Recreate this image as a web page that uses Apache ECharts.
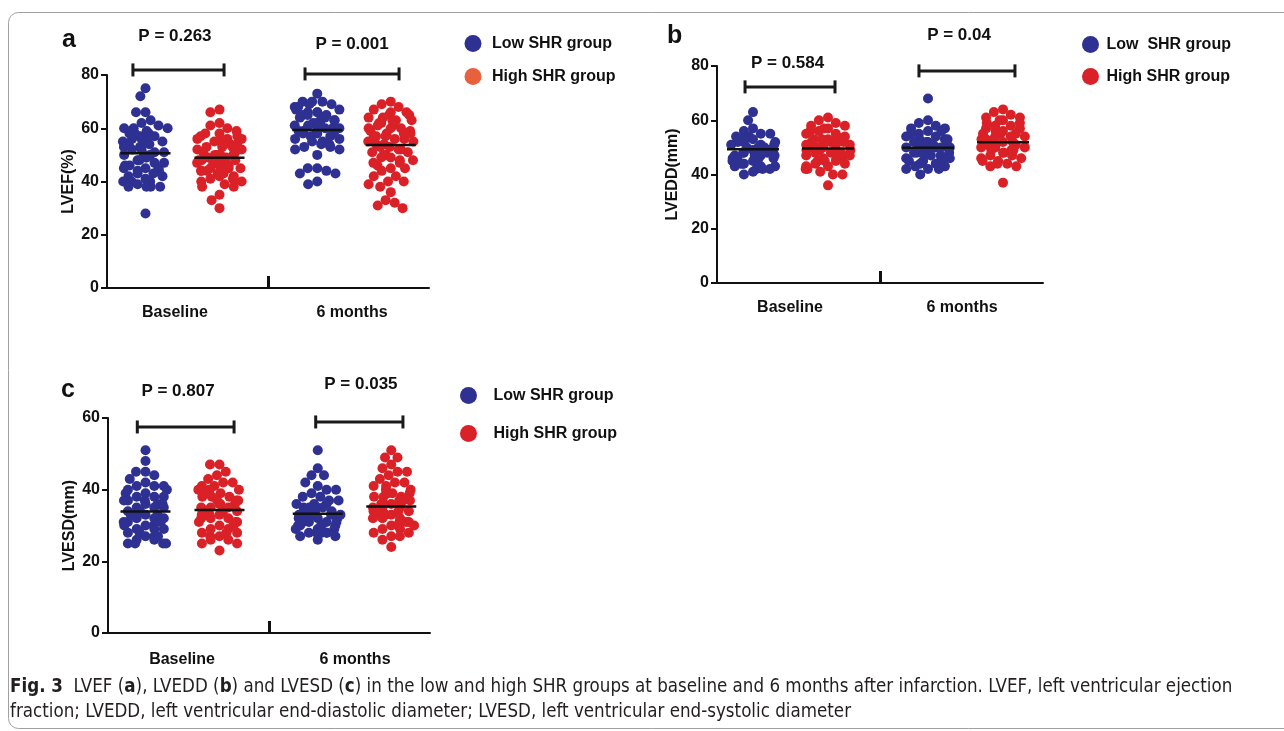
<!DOCTYPE html>
<html>
<head>
<meta charset="utf-8">
<title>LVEF, LVEDD and LVESD in low and high SHR groups</title>
<script src="https://cdn.jsdelivr.net/npm/echarts@6/dist/echarts.min.js"></script>
<style>
  html, body { margin: 0; padding: 0; background: #fff; }
  #chart { width: 1284px; height: 731px; }
</style>
</head>
<body>
<div id="chart"></div>
<script>
const phases = ['Baseline', '6 months'];
const groups = ['Low SHR group', 'High SHR group'];

// a: LVEF (%)
const lvefLowBaseline = [75, 72, 66, 66, 63, 62, 61, 60, 60, 60, 59, 58, 58, 58, 57, 57, 56, 56, 55, 55, 55, 54, 54, 53, 53, 52, 52, 51, 51, 50, 50, 50, 49, 49, 48, 48, 47, 47, 46, 46, 45, 45, 45, 44, 44, 43, 43, 42, 42, 41, 40, 40, 40, 40, 39, 38, 38, 38, 38, 28];
const lvefHighBaseline = [67, 66, 62, 61, 60, 59, 58, 58, 57, 57, 56, 56, 56, 55, 55, 54, 54, 53, 53, 53, 52, 52, 51, 51, 50, 50, 50, 50, 49, 49, 48, 48, 48, 47, 47, 47, 46, 46, 46, 45, 45, 45, 44, 44, 44, 43, 43, 42, 42, 41, 41, 40, 40, 40, 39, 38, 38, 35, 33, 30];
const lvefLow6m = [73, 70, 70, 70, 69, 69, 68, 68, 67, 67, 66, 66, 66, 65, 65, 65, 64, 64, 63, 63, 63, 62, 62, 62, 61, 61, 61, 60, 60, 60, 59, 59, 59, 58, 58, 58, 57, 57, 56, 56, 55, 55, 54, 54, 53, 53, 52, 52, 50, 45, 45, 44, 43, 43, 40, 39];
const lvefHigh6m = [70, 69, 68, 67, 66, 66, 65, 65, 64, 64, 63, 63, 63, 62, 62, 61, 61, 60, 60, 60, 59, 59, 58, 58, 58, 57, 57, 57, 56, 56, 55, 55, 54, 54, 53, 53, 52, 52, 51, 51, 50, 50, 49, 49, 48, 48, 47, 47, 46, 45, 45, 44, 42, 42, 40, 40, 39, 38, 36, 33, 32, 31, 30];
const lvefMeans = [50.6, 48.9, 59.3, 53.7];   // low/high at baseline, low/high at 6 months
const lvefP = ['P = 0.263', 'P = 0.001'];

// b: LVEDD (mm)
const lveddLowBaseline = [63, 60, 57, 56, 55, 55, 54, 54, 54, 53, 53, 53, 52, 52, 52, 51, 51, 51, 50, 50, 50, 50, 49, 49, 49, 49, 48, 48, 48, 48, 47, 47, 47, 47, 46, 46, 46, 46, 45, 45, 45, 44, 44, 44, 43, 43, 43, 42, 42, 42, 41, 40];
const lveddHighBaseline = [61, 60, 59, 58, 58, 57, 57, 56, 56, 55, 55, 54, 54, 53, 53, 53, 52, 52, 52, 51, 51, 51, 50, 50, 50, 50, 49, 49, 49, 49, 48, 48, 48, 47, 47, 47, 46, 46, 46, 45, 45, 45, 44, 44, 43, 43, 42, 42, 41, 40, 40, 36];
const lveddLow6m = [68, 60, 59, 58, 57, 57, 56, 56, 55, 55, 54, 54, 53, 53, 53, 52, 52, 52, 51, 51, 51, 50, 50, 50, 50, 49, 49, 49, 49, 48, 48, 48, 48, 47, 47, 47, 46, 46, 46, 45, 45, 45, 44, 44, 43, 43, 42, 42, 42, 40];
const lveddHigh6m = [64, 63, 62, 61, 61, 60, 60, 59, 59, 58, 58, 57, 57, 56, 56, 56, 55, 55, 55, 54, 54, 54, 53, 53, 53, 52, 52, 52, 51, 51, 51, 50, 50, 50, 49, 49, 49, 48, 48, 47, 47, 46, 46, 45, 45, 44, 44, 43, 43, 37];
const lveddMeans = [49.3, 49.6, 49.9, 51.9];
const lveddP = ['P = 0.584', 'P = 0.04'];

// c: LVESD (mm)
const lvesdLowBaseline = [51, 48, 45, 45, 44, 43, 42, 41, 41, 41, 40, 40, 39, 39, 38, 38, 38, 37, 37, 37, 36, 36, 36, 35, 35, 35, 34, 34, 34, 33, 33, 33, 32, 32, 32, 31, 31, 31, 30, 30, 30, 29, 29, 29, 28, 28, 27, 27, 27, 26, 26, 25, 25, 25, 25];
const lvesdHighBaseline = [47, 47, 45, 44, 43, 42, 42, 41, 41, 40, 40, 40, 39, 39, 38, 38, 38, 37, 37, 37, 36, 36, 36, 35, 35, 35, 34, 34, 34, 33, 33, 33, 32, 32, 32, 31, 31, 31, 30, 30, 30, 29, 29, 28, 28, 28, 27, 27, 26, 26, 25, 25, 23];
const lvesdLow6m = [51, 46, 44, 44, 42, 41, 40, 40, 39, 38, 38, 37, 37, 36, 36, 36, 35, 35, 35, 35, 34, 34, 34, 34, 33, 33, 33, 33, 32, 32, 32, 32, 31, 31, 31, 31, 30, 30, 30, 30, 29, 29, 29, 29, 28, 28, 28, 28, 28, 27, 27, 26];
const lvesdHigh6m = [51, 49, 49, 47, 46, 45, 45, 44, 43, 42, 42, 41, 41, 40, 40, 39, 39, 39, 38, 38, 38, 37, 37, 37, 36, 36, 36, 35, 35, 35, 34, 34, 34, 33, 33, 33, 32, 32, 32, 31, 31, 31, 30, 30, 30, 29, 29, 28, 28, 27, 27, 26, 24];
const lvesdMeans = [33.9, 34.3, 33.3, 35.3];
const lvesdP = ['P = 0.807', 'P = 0.035'];

const blue = '#2e3192';
const red = '#da2127';
const orange = '#e8603c';
const ink = '#111';
const font = "'Liberation Sans', Arial, sans-serif";
const captionFont = "'Liberation Sans Narrow', 'DejaVu Sans Condensed', 'Liberation Sans', sans-serif";

// layout of the three panels (pixels, and bracket/label spots in 0..2 units of the phase axis)
const panels = [
    {
        letter: 'a', letterPos: [62, 28], yName: 'LVEF(%)', yMax: 80, nameGap: 30,
        grid: { left: 107, top: 75, width: 322, height: 213 },
        dotGrids: [{ left: 108.5, width: 148 }, { left: 280.5, width: 147 }],
        values: [[lvefLowBaseline, lvefHighBaseline], [lvefLow6m, lvefHigh6m]],
        means: lvefMeans, pText: lvefP,
        brackets: [[0.161, 0.727, 81.9, 0.422, 94.7], [1.23, 1.814, 80.4, 1.522, 91.6]],
        labelAt: [0.422, 1.522], labelMargin: 17,
        names: ['Low SHR group', 'High SHR group'],
        legend: { left: 464.5, top: 35, itemWidth: 28, itemGap: 16, colors: [blue, orange] },
        meanHalf: 25
    },
    {
        letter: 'b', letterPos: [667, 24], yName: 'LVEDD(mm)', yMax: 80, nameGap: 36,
        grid: { left: 717, top: 66, width: 326, height: 217 },
        dotGrids: [{ left: 715.5, width: 150 }, { left: 890.5, width: 150 }],
        values: [[lveddLowBaseline, lveddHighBaseline], [lveddLow6m, lveddHigh6m]],
        means: lveddMeans, pText: lveddP,
        brackets: [[0.172, 0.724, 72.3, 0.433, 81.1], [1.239, 1.828, 78.2, 1.485, 91.3]],
        labelAt: [0.448, 1.503], labelMargin: 17,
        names: ['Low  SHR group', 'High SHR group'],
        legend: { left: 1082, top: 36, itemWidth: 22, itemGap: 15, colors: [blue, red] },
        meanHalf: 26
    },
    {
        letter: 'c', letterPos: [61, 378], yName: 'LVESD(mm)', yMax: 60, nameGap: 30,
        grid: { left: 108, top: 418, width: 322, height: 215 },
        dotGrids: [{ left: 108.5, width: 148 }, { left: 281, width: 147 }],
        values: [[lvesdLowBaseline, lvesdHighBaseline], [lvesdLow6m, lvesdHigh6m]],
        means: lvesdMeans, pText: lvesdP,
        brackets: [[0.182, 0.783, 57.5, 0.435, 67.4], [1.29, 1.832, 58.9, 1.571, 69.3]],
        labelAt: [0.46, 1.534], labelMargin: 19,
        names: ['Low SHR group', 'High SHR group'],
        legend: { left: 460, top: 387, itemWidth: 40, itemGap: 21, colors: [blue, red] },
        meanHalf: 25
    }
];

const caption = '{b|Fig. 3}  LVEF ({b|a}), LVEDD ({b|b}) and LVESD ({b|c}) in the low and high SHR groups at baseline and 6 months after infarction. LVEF, left ventricular ejection\n' +
    'fraction; LVEDD, left ventricular end-diastolic diameter; LVESD, left ventricular end-systolic diameter';

const option = {
    animation: false,
    backgroundColor: '#fff',
    title: [],
    legend: [],
    grid: [],
    xAxis: [],
    yAxis: [],
    series: [],
    graphic: [{
        type: 'rect', z: -10, silent: true,
        shape: { x: 8.5, y: 12.5, width: 1290, height: 716, r: 10 },
        style: { fill: null, stroke: '#a0a0a0', lineWidth: 1 }
    }]
};

const dotColors = [blue, red];

panels.forEach(function (pn) {
    const interval = 20;
    // main grid with the visible axes
    const gMain = option.grid.length;
    option.grid.push(Object.assign({ outerBoundsMode: 'none' }, pn.grid));
    const xMain = option.xAxis.length;
    option.xAxis.push({
        gridIndex: gMain, type: 'value', min: 0, max: 2,
        splitLine: { show: false },
        axisLine: { lineStyle: { color: ink, width: 2 } },
        axisTick: { show: true, inside: true, length: 12, lineStyle: { color: ink, width: 3 }, customValues: [1] },
        axisLabel: {
            customValues: pn.labelAt, margin: pn.labelMargin,
            formatter: function (v) { return v < 1 ? phases[0] : phases[1]; },
            color: ink, fontSize: 16, fontWeight: 'bold', fontFamily: font
        }
    });
    const yMain = option.yAxis.length;
    option.yAxis.push({
        gridIndex: gMain, type: 'value', min: 0, max: pn.yMax, interval: interval,
        name: pn.yName, nameLocation: 'middle', nameGap: pn.nameGap,
        nameTextStyle: { color: ink, fontSize: 16, fontWeight: 'bold', fontFamily: font },
        splitLine: { show: false },
        axisLine: { show: true, lineStyle: { color: ink, width: 2 } },
        axisTick: { show: true, length: 6, lineStyle: { color: ink, width: 2 } },
        axisLabel: { color: ink, fontSize: 16, fontWeight: 'bold', fontFamily: font, margin: 8 }
    });
    // significance brackets with P values
    option.series.push({
        type: 'custom', xAxisIndex: xMain, yAxisIndex: yMain, z: 6, silent: true, clip: false,
        data: pn.brackets,
        renderItem: function (params, api) {
            const a = api.coord([api.value(0), api.value(2)]);
            const b = api.coord([api.value(1), api.value(2)]);
            const t = api.coord([api.value(3), api.value(4)]);
            const cap = 6.5;
            const st = { stroke: '#1a1a1a', lineWidth: 3 };
            return {
                type: 'group',
                children: [
                    { type: 'line', shape: { x1: a[0], y1: a[1], x2: b[0], y2: b[1] }, style: st },
                    { type: 'line', shape: { x1: a[0], y1: a[1] - cap, x2: a[0], y2: a[1] + cap }, style: st },
                    { type: 'line', shape: { x1: b[0], y1: b[1] - cap, x2: b[0], y2: b[1] + cap }, style: st },
                    {
                        type: 'text', x: t[0], y: t[1],
                        style: {
                            text: pn.pText[params.dataIndex], fill: ink,
                            fontSize: 17, fontWeight: 'bold', fontFamily: font,
                            align: 'center', verticalAlign: 'middle'
                        }
                    }
                ]
            };
        }
    });

    // one hidden grid per phase, so the two groups sit where the figure has them
    pn.dotGrids.forEach(function (dg, ph) {
        const gi = option.grid.length;
        option.grid.push({ left: dg.left, width: dg.width, top: pn.grid.top, height: pn.grid.height, outerBoundsMode: 'none' });
        const xi = option.xAxis.length;
        option.xAxis.push({
            gridIndex: gi, type: 'category', data: groups, show: false,
            jitter: 46, jitterOverlap: false, jitterMargin: -0.5
        });
        const yi = option.yAxis.length;
        option.yAxis.push({ gridIndex: gi, type: 'value', min: 0, max: pn.yMax, interval: interval, show: false });

        pn.values[ph].forEach(function (vals, g) {
            option.series.push({
                type: 'scatter', name: pn.names[g], xAxisIndex: xi, yAxisIndex: yi, z: 3,
                symbol: 'circle', symbolSize: 10,
                itemStyle: { color: dotColors[g], opacity: 1 },
                emphasis: { disabled: true },
                data: vals.map(function (v) { return [g, v]; })
            });
        });
        // group means
        option.series.push({
            type: 'custom', xAxisIndex: xi, yAxisIndex: yi, z: 5, silent: true,
            data: [[0, pn.means[ph * 2]], [1, pn.means[ph * 2 + 1]]],
            renderItem: function (params, api) {
                const p = api.coord([api.value(0), api.value(1)]);
                return {
                    type: 'line',
                    shape: { x1: p[0] - pn.meanHalf, y1: p[1], x2: p[0] + pn.meanHalf, y2: p[1] },
                    style: { stroke: ink, lineWidth: 2.5 }
                };
            }
        });
    });

    option.legend.push({
        orient: 'vertical', left: pn.legend.left, top: pn.legend.top,
        itemWidth: pn.legend.itemWidth, itemHeight: 17, itemGap: pn.legend.itemGap,
        icon: 'circle', selectedMode: false, padding: 0,
        textStyle: { color: ink, fontSize: 16, fontWeight: 'bold', fontFamily: font },
        data: pn.names.map(function (n, i) { return { name: n, itemStyle: { color: pn.legend.colors[i] } }; })
    });

    option.title.push({
        text: pn.letter, left: pn.letterPos[0], top: pn.letterPos[1], padding: 0,
        textStyle: { color: ink, fontSize: 25, fontWeight: 'bold', fontFamily: font }
    });
});

option.title.push({
    text: caption, left: 10, top: 675, padding: 0,
    textStyle: {
        color: '#231f20', fontSize: 18.6, fontWeight: 'normal', lineHeight: 25,
        fontFamily: captionFont,
        rich: {
            b: { fontWeight: 'bold', fontSize: 18.6, color: '#231f20', lineHeight: 25, fontFamily: captionFont }
        }
    }
});

const myChart = echarts.init(document.getElementById('chart'), null, { renderer: 'canvas' });
myChart.setOption(option);
window.addEventListener('resize', myChart.resize);
</script>
</body>
</html>
